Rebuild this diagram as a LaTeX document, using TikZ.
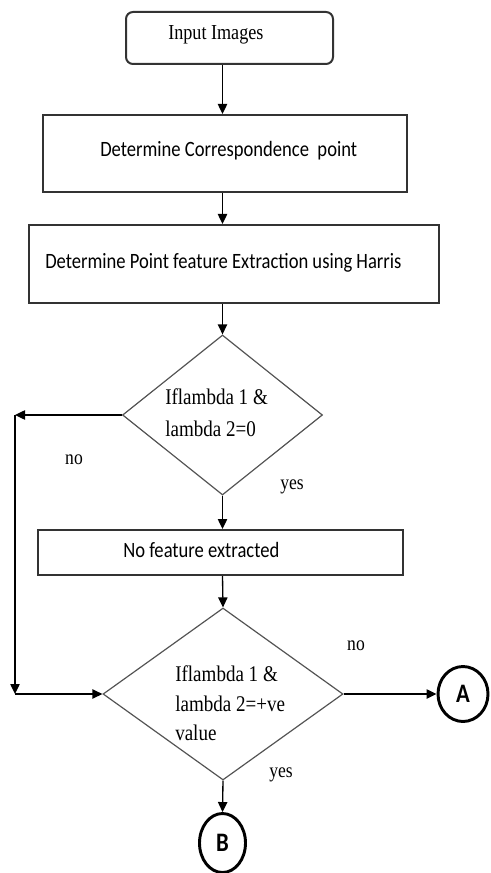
\documentclass[tikz,border=0pt]{standalone}
\usepackage{fontspec}
\setmainfont{Liberation Serif}[FakeStretch=0.85]
\newfontfamily\calfont{Carlito}[FakeStretch=0.85]
\usetikzlibrary{arrows.meta,shapes.geometric}

\newlength{\du}
\setlength{\du}{0.75pt}

\definecolor{boxgray}{rgb}{0.200000, 0.200000, 0.200000}
\definecolor{diagray}{rgb}{0.330000, 0.330000, 0.330000}

\tikzset{
  procbox/.style={draw=boxgray, line width=1.5pt, inner sep=0pt},
  startbox/.style={procbox, rounded corners=7\du},
  decision/.style={diamond, draw=diagray, line width=0.9pt, inner sep=0pt},
  term/.style={ellipse, draw=black, line width=2.2pt, inner sep=0pt,
    font=\calfont\bfseries\fontsize{20}{24}\selectfont},
  boxtext/.style={anchor=west, inner sep=0pt, font=\calfont\fontsize{16.4}{20}\selectfont},
  startext/.style={anchor=west, inner sep=0pt, font=\fontsize{16}{20}\selectfont},
  dectext/.style={anchor=west, inner sep=0pt, align=left, font=\fontsize{16.8}{#1}\selectfont},
  branch/.style={inner sep=0pt, font=\fontsize{15.5}{18}\selectfont},
  flow/.style={line width=1pt, -{Triangle[length=7.5pt,width=7pt]}}
}

\begin{document}
\begin{tikzpicture}
\pgftransformxscale{1.000000}
\pgftransformyscale{-1.000000}
\useasboundingbox (0\du,0\du) rectangle (490\du,873\du);

% boxes
\node[startbox, minimum width=207\du, minimum height=52\du] (start) at (229.5\du,38\du) {};
\node[startext] (starttxt) at (168\du,35\du) {Input Images};

\node[procbox, minimum width=364\du, minimum height=77\du] (corr) at (225\du,153.5\du) {};
\node[boxtext] (corrtxt) at (100\du,151\du) {Determine Correspondence\ \ point};

\node[procbox, minimum width=410\du, minimum height=78\du] (harris) at (234\du,264\du) {};
\node[boxtext] (harristxt) at (45\du,263\du) {Determine Point feature Extraction using Harris};

% first test
\node[decision, minimum width=200\du, minimum height=160\du] (d1) at (222.5\du,415\du) {};
\node[dectext=24pt] (d1txt) at (165\du,413\du) {Iflambda 1 \&\\lambda 2=0};

\node[procbox, minimum width=365\du, minimum height=45\du] (nofeat) at (220.5\du,552.5\du) {};
\node[boxtext] (nofeattxt) at (123\du,550\du) {No feature extracted};

% second test
\node[decision, minimum width=240\du, minimum height=172\du] (d2) at (223\du,694\du) {};
\node[dectext=22pt] (d2txt) at (175\du,703.5\du) {Iflambda 1 \&\\lambda 2=+ve\\value};

\node[term, minimum width=50\du, minimum height=55\du] (A) at (463\du,694\du) {A};
\node[term, minimum width=46\du, minimum height=59\du] (B) at (222.5\du,843\du) {B};

\node[branch] (no1) at (74\du,460\du) {no};
\node[branch] (yes1) at (292\du,487\du) {yes};
\node[branch] (no2) at (356\du,646\du) {no};
\node[branch] (yes2) at (281\du,775\du) {yes};

% connectors
\draw[flow] (start.south -| d1) -- (corr.north -| d1);
\draw[flow] (corr.south -| d1) -- (harris.north -| d1);
\draw[flow] (harris.south -| d1) -- (d1.north);
\draw[flow] (d1.south) -- (nofeat.north -| d1);
\draw[flow] (nofeat.south -| d1) -- (d2.north);

\coordinate (lt) at (15\du,415\du);
\coordinate (lb) at (15\du,694\du);
\draw[flow] (d1.west) -- (lt);
\draw[flow] (lt) -- (lb);
\draw[flow] (lb) -- (d2.west);

\draw[flow] (d2.east) -- (A.west);
\draw[flow] (d2.south) -- (B.north);
\end{tikzpicture}
\end{document}
